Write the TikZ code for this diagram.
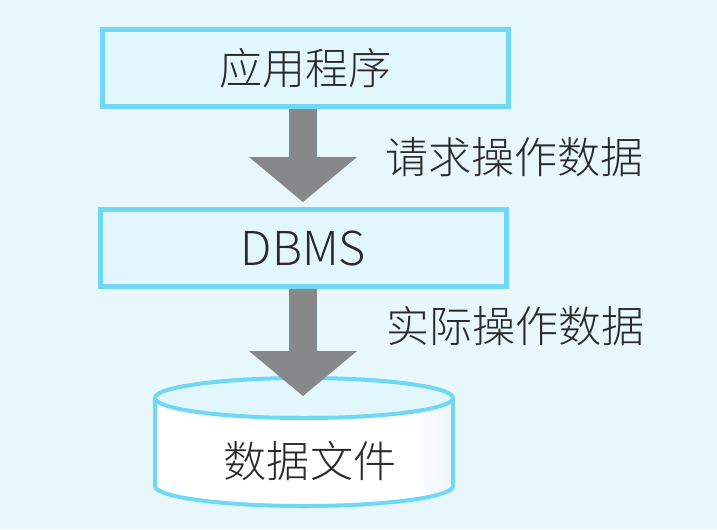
\documentclass[tikz,border=0pt]{standalone}
\usepackage{fontspec}
\newfontfamily\cjk{Noto Sans CJK SC Light}
\definecolor{DBbg}{HTML}{E7F7FC}
\definecolor{DBfill}{HTML}{E2F6FD}
\definecolor{DBline}{HTML}{6FD8F5}
\definecolor{DBgray}{HTML}{87888A}
\definecolor{DBtext}{HTML}{2A2A2A}
\definecolor{DBcyl}{HTML}{B2D8E3}
\usetikzlibrary{arrows.meta, calc}
\pgfdeclarehorizontalshading{cylshade}{100bp}{color(0bp)=(white!92!DBfill); color(45bp)=(white); color(68bp)=(white); color(100bp)=(DBcyl)}
\tikzset{
   procbox/.style={draw=DBline, line width=3.75pt, fill=DBfill, text=DBtext,
      minimum width=305pt, minimum height=57.75pt, inner sep=0pt,
      font=\cjk\fontsize{32.3}{36}\selectfont},
   lbl/.style={text=DBtext, inner sep=0pt, font=\cjk\fontsize{32.3}{36}\selectfont},
   bigarrow/.style={DBgray, line width=21pt,
      -{Triangle[width=81pt, length=33.75pt, line width=0pt]}},
   cylline/.style={draw=DBline, line width=3pt}
}

\begin{document}
\begin{tikzpicture}[x=0.75pt, y=-0.75pt]
            % Background
            \fill[DBbg] (0,0) rectangle (717,529);
            \useasboundingbox (0,0) rectangle (717,529);
            % Boxes
            \node[procbox] (app) at (305.5,68) {应用程序};
            \node[procbox, font=\cjk\fontsize{35}{40}\selectfont] (dbms) at (303.5,248) {DBMS};
            % Cylinder: body, bottom arc and top
            \coordinate (dbtop) at (303,398);
            \shade[shading=cylshade] (155,398) -- (155,486)
               arc[start angle=180, end angle=0, x radius=149, y radius=20] -- (453,398) -- cycle;
            \draw[cylline] (155,398) -- (155,486)
               arc[start angle=180, end angle=0, x radius=149, y radius=20] -- (453,398);
            \filldraw[cylline, fill=DBfill] (304,398) ellipse [x radius=149, y radius=20];
            \node[lbl] (db) at (310,461) {数据文件};
            % Block arrows
            \draw[bigarrow, shorten >=3.75pt] (dbtop |- app.south) -- (dbtop |- dbms.north);
            \draw[bigarrow, shorten >=1.5pt] (dbtop |- dbms.south) -- (dbtop);
            % Labels
            \node[lbl, anchor=west] (req) at (385,157) {请求操作数据};
            \node[lbl, anchor=west] (act) at (386,326) {实际操作数据};
         \end{tikzpicture}
\end{document}
